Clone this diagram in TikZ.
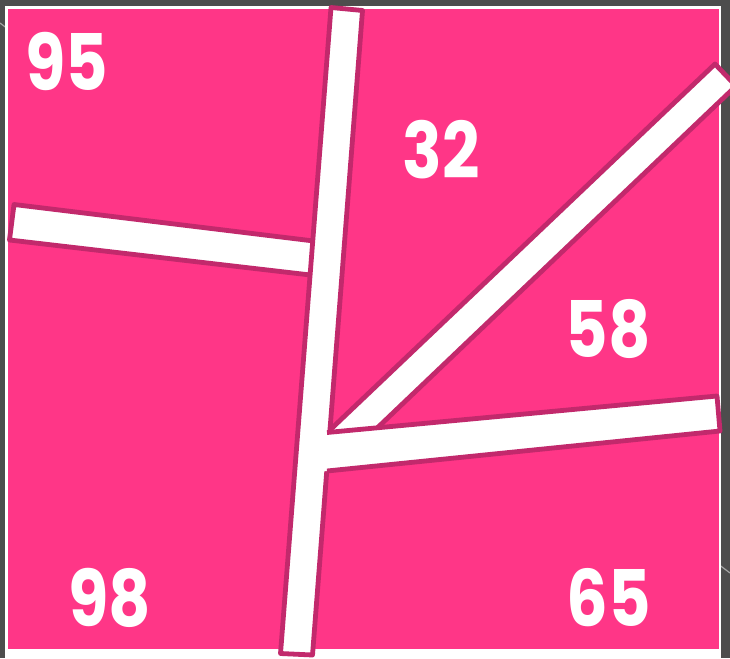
\documentclass[tikz,border=0pt]{standalone}
\usepackage{fontspec}
\setmainfont{Poppins}
\usepackage{graphicx}
\usepackage{xcolor}
\definecolor{boardpink}{HTML}{FF3687}
\definecolor{barline}{HTML}{C2296C}
\definecolor{backgray}{HTML}{4D4D4D}
\newcommand{\narrow}[1]{\scalebox{0.84}[1]{#1}}
\tikzset{
  barfill/.style={fill=white},
  baredge/.style={draw=barline,line width=4.8pt,line join=round},
  score/.style={text=white,inner sep=0pt,font=\fontsize{78}{78}\selectfont\bfseries}
}

\begin{document}
\begin{tikzpicture}[x=1pt,y=-1pt]

		% Frame and background
		\useasboundingbox (0,0) rectangle (730,658);
		\clip (0,0) rectangle (730,658);
		\fill[backgray] (0,0) rectangle (730,658);
		\draw[gray!70,line width=1.2pt] (0,23) -- (730,573);
		\fill[white] (5,6) rectangle (721,658);
		\fill[boardpink] (8,9) rectangle (719,649);

		% Diagonal bar (lower end is hidden under the others)
		\draw[barfill,baredge] (300,459) -- (331,429) -- (715,64) -- (736,86)
		-- (373,432) -- (340,463) -- cycle;

		% Left bar, butting on the long bar
		\draw[barfill,baredge] (14,204.5) -- (322,242) -- (319,276) -- (9.5,240) -- cycle;

		% Long bar
		\draw[barfill,baredge] (331,7.5) -- (362.5,10.5) -- (312.5,655) -- (280.5,653.5) -- cycle;

		% Lower right bar: no edge where it joins the long bar
		\fill[white] (315,433.8) -- (327,432.5) -- (717,396) -- (720,431) -- (327,471) -- (315,472.2) -- cycle;
		\draw[baredge] (327,432.5) -- (717,396) -- (720,431) -- (327,471);

		% Scores
		\node[score] (tl) at (67,61) {\narrow{95}};
		\node[score] (tm) at (441,150) {\narrow{32}};
		\node[score] (mr) at (608,329) {\narrow{58}};
		\node[score] (bl) at (110,598) {\narrow{98}};
		\node[score] (br) at (609,598) {\narrow{65}};

\end{tikzpicture}
\end{document}
